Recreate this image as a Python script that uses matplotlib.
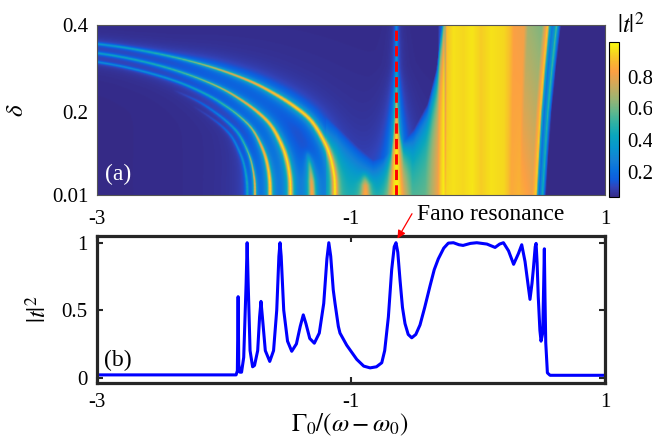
import numpy as np
import matplotlib
matplotlib.use("Agg")
import matplotlib.pyplot as plt
from matplotlib.colors import LinearSegmentedColormap

plt.rcParams["font.family"] = ["Liberation Serif", "DejaVu Serif"]
plt.rcParams["mathtext.fontset"] = "stix"

# ---------------- (b) transmission curve
T_X = [-3.0, -1.905, -1.895, -1.889, -1.884, -1.875, -1.862, -1.845, -1.826, -1.818,
       -1.81, -1.795, -1.775, -1.76, -1.735, -1.72, -1.709, -1.698, -1.675, -1.64,
       -1.61, -1.585, -1.568, -1.559, -1.55, -1.53, -1.5, -1.467, -1.43, -1.4,
       -1.376, -1.355, -1.325, -1.289, -1.25, -1.215, -1.19, -1.175, -1.16, -1.14,
       -1.126, -1.1, -1.087, -1.034, -0.955, -0.9, -0.85, -0.8, -0.758, -0.735,
       -0.706, -0.68, -0.66, -0.646, -0.632, -0.614, -0.595, -0.575, -0.55, -0.522,
       -0.49, -0.457, -0.42, -0.378, -0.345, -0.313, -0.27, -0.234, -0.194, -0.15,
       -0.118, -0.06, -0.01, 0.07, 0.134, 0.17, 0.2, 0.24, 0.28, 0.318,
       0.344, 0.37, 0.395, 0.409, 0.425, 0.435, 0.45, 0.457, 0.465, 0.474,
       0.487, 0.496, 0.509, 0.517, 0.522, 0.527, 0.533, 0.546, 0.567, 1.0]
T_Y = [0.02, 0.02, 0.05, 0.60, 0.10, 0.04, 0.04, 0.15, 0.70, 1.0,
       0.70, 0.20, 0.08, 0.09, 0.20, 0.45, 0.565, 0.45, 0.20, 0.12,
       0.20, 0.50, 0.90, 1.0, 0.90, 0.50, 0.27, 0.195, 0.25, 0.38,
       0.465, 0.40, 0.29, 0.255, 0.33, 0.55, 0.88, 1.0, 0.90, 0.65,
       0.55, 0.38, 0.33, 0.24, 0.135, 0.085, 0.072, 0.08, 0.11, 0.20,
       0.45, 0.80, 0.97, 1.0, 0.93, 0.72, 0.52, 0.40, 0.32, 0.295,
       0.32, 0.39, 0.52, 0.68, 0.80, 0.88, 0.96, 0.997, 1.0, 0.985,
       0.98, 0.995, 1.0, 0.99, 0.965, 0.99, 1.0, 0.94, 0.84, 0.92,
       0.985, 0.86, 0.68, 0.58, 0.70, 0.80, 0.97, 0.995, 0.85, 0.60,
       0.35, 0.27, 0.33, 0.70, 0.955, 0.60, 0.26, 0.035, 0.017, 0.017]

FANO_X = -0.646
FANO_Y = 1.0

# ---------------- (a) map of |t|^2: ridges
# each ridge: delta, x, peak value, half width (screen px) along the ridge
R1_D = [0.0, 0.05, 0.10, 0.14, 0.18, 0.21, 0.24, 0.27, 0.30, 0.325, 0.345, 0.357]
R1_X = [-1.13, -1.135, -1.17, -1.23, -1.32, -1.44, -1.60, -1.80, -2.08, -2.40, -2.75, -3.05]
R1_A = [1.0, 1.0, 1.0, 1.0, 1.0, 1.0, 0.95, 0.85, 0.7, 0.5, 0.38, 0.32]
R1_W = [2.6, 2.4, 2.2, 2.0, 1.8, 1.7, 1.5, 1.4, 1.3, 1.1, 1.0, 1.0]

R2_D = [0.0, 0.047, 0.094, 0.132, 0.169, 0.198, 0.226, 0.254, 0.282, 0.306, 0.325, 0.336]
R2_X = [-1.48, -1.484, -1.513, -1.562, -1.635, -1.734, -1.864, -2.028, -2.257, -2.519, -2.805, -3.05]
R2_A = [1.0, 1.0, 1.0, 1.0, 0.95, 0.9, 0.8, 0.7, 0.55, 0.45, 0.38, 0.35]
R2_W = [2.2, 2.1, 2.0, 1.8, 1.6, 1.5, 1.4, 1.2, 1.1, 1.0, 1.0, 1.0]

R3_D = [0.0, 0.044, 0.088, 0.124, 0.159, 0.186, 0.212, 0.238, 0.265, 0.287, 0.305, 0.316]
R3_X = [-1.64, -1.644, -1.669, -1.713, -1.779, -1.868, -1.985, -2.132, -2.337, -2.572, -2.829, -3.05]
R3_A = [1.0, 1.0, 0.95, 0.85, 0.7, 0.6, 0.5, 0.42, 0.35, 0.3, 0.28, 0.28]
R3_W = [1.9, 1.8, 1.6, 1.5, 1.3, 1.2, 1.1, 1.0, 0.9, 0.9, 0.9, 0.9]

R4_D = [0.0, 0.041, 0.083, 0.116, 0.149, 0.174, 0.199, 0.224, 0.249]
R4_X = [-1.76, -1.763, -1.787, -1.827, -1.888, -1.968, -2.076, -2.21, -2.398]
R4_A = [0.9, 0.85, 0.7, 0.55, 0.4, 0.3, 0.2, 0.1, 0.0]
R4_W = [1.3, 1.2, 1.1, 1.0, 1.0, 0.9, 0.9, 0.9, 0.9]

R5_D = [0.0, 0.039, 0.079, 0.11, 0.142, 0.166, 0.189, 0.213]
R5_X = [-1.82, -1.823, -1.846, -1.884, -1.942, -2.018, -2.121, -2.249]
R5_A = [0.4, 0.4, 0.35, 0.28, 0.2, 0.12, 0.06, 0.0]
R5_W = [1.0, 1.0, 0.9, 0.9, 0.9, 0.8, 0.8, 0.8]

# short orange spots at the bottom edge
BA_D = [0.00, 0.04, 0.08, 0.11]
BA_X = [-1.31, -1.315, -1.33, -1.35]
BA_A = [0.85, 0.75, 0.45, 0.0]
BA_W = [3.5, 3.5, 3.0, 2.5]

BB_D = [0.00, 0.03, 0.06]
BB_X = [-0.89, -0.89, -0.90]
BB_A = [0.85, 0.7, 0.0]
BB_W = [5.0, 4.5, 3.5]

# the Fano line
FR_D = [0.00, 0.10, 0.20, 0.30, 0.41]
FR_A = [1.0, 0.95, 0.7, 0.35, 0.25]
FR_W = [6.0, 4.0, 2.5, 1.6, 1.3]

# lit region around the Fano line: lower edge of the dark area and value deep below it
VB_X = [-1.2, -1.09, -0.95, -0.83, -0.75, -0.69, -0.665, -0.645, -0.625, -0.59, -0.51, -0.40, -0.33, -0.30, -0.27]
VB_D = [0.19, 0.16, 0.12, 0.09, 0.095, 0.11, 0.16, 0.24, 0.16, 0.13, 0.16, 0.22, 0.30, 0.38, 0.42]
VF_X = [-1.2, -1.12, -1.0, -0.8, -0.72, -0.67, -0.645, -0.6, -0.52, -0.42, -0.32, -0.27]
VF_V = [0.15, 0.35, 0.38, 0.40, 0.50, 0.85, 0.95, 0.75, 0.50, 0.55, 0.80, 0.95]

# transmission band on the right: right edge vs delta, profiles at top and bottom
PE_D = [0.01, 0.10, 0.20, 0.30, 0.40]
PE_X = [0.53, 0.55, 0.575, 0.61, 0.65]
PU = [-0.32, -0.29, -0.27, -0.25, -0.2, -0.12, -0.05, 0.02, 0.1, 0.2, 0.25, 0.28,
      0.36, 0.39, 0.5, 0.53, 0.545, 0.56, 0.58, 0.6, 0.615, 0.63, 0.65]
PT_V = [0.0, 0.15, 0.5, 0.9, 0.97, 0.95, 0.98, 0.93, 0.97, 0.95, 0.9, 0.82,
        0.8, 0.65, 0.6, 0.8, 0.95, 0.45, 0.2, 0.3, 0.55, 0.25, 0.0]
PB_V = [0.0, 0.6, 0.9, 0.95, 0.97, 0.95, 0.98, 0.93, 0.97, 0.95, 0.9, 0.85,
        0.88, 0.86, 0.8, 0.9, 0.95, 0.4, 0.15, 0.3, 0.45, 0.2, 0.0]

# MATLAB parula, sampled
PARULA = [(0.2081, 0.1663, 0.5292), (0.1959, 0.2645, 0.7279), (0.0591, 0.3598, 0.8683),
          (0.0329, 0.4430, 0.8720), (0.0779, 0.5040, 0.8384), (0.0265, 0.5901, 0.8120),
          (0.0384, 0.6517, 0.7404), (0.1801, 0.6966, 0.6465), (0.3953, 0.7180, 0.5437),
          (0.6099, 0.7049, 0.4495), (0.7897, 0.6702, 0.3642), (0.9586, 0.6307, 0.2793),
          (0.9913, 0.6275, 0.2611), (0.9745, 0.7198, 0.1883), (0.9621, 0.8522, 0.1147),
          (0.9763, 0.9831, 0.0538)]
PARULA_POS = [0, 4, 7, 11, 15, 20, 25, 30, 35, 40, 45, 50, 51, 55, 59, 63]
parula = LinearSegmentedColormap.from_list(
    "parula", [(p / 63, c) for p, c in zip(PARULA_POS, PARULA)])

# ---------------- build the map
PX_X = 127.0          # screen px per unit x
PX_D = 170 / 0.39     # screen px per unit delta
gx = np.linspace(-3, 1, 640)
gd = np.linspace(0.01, 0.4, 260)
X, D = np.meshgrid(gx, gd)


def dense_path(xs, ds, amp, wid, step=0.7):
    # Catmull-Rom through the read points (in screen px), for drawing only
    P = np.column_stack([np.asarray(xs) * PX_X, np.asarray(ds) * PX_D])
    n = len(P)
    out = []
    for i in range(n - 1):
        p0, p1, p2, p3 = P[max(i - 1, 0)], P[i], P[i + 1], P[min(i + 2, n - 1)]
        m = max(int(np.hypot(*(p2 - p1)) / step), 2)
        t = np.linspace(0, 1, m, endpoint=False)[:, None]
        pt = 0.5 * (2 * p1 + (p2 - p0) * t + (2 * p0 - 5 * p1 + 4 * p2 - p3) * t ** 2
                    + (3 * p1 - p0 - 3 * p2 + p3) * t ** 3)
        a = amp[i] + (amp[i + 1] - amp[i]) * t[:, 0]
        w = wid[i] + (wid[i + 1] - wid[i]) * t[:, 0]
        out.append(np.column_stack([pt, a, w]))
    return np.vstack(out)


def ridge(xs, ds, amp, wid, halo=0.0, hwid=8.0):
    core = np.zeros_like(X)
    glow = np.zeros_like(X)
    Xp, Dp = X * PX_X, D * PX_D
    for x0, d0, a, w in dense_path(xs, ds, amp, wid):
        r2 = (Xp - x0) ** 2 + (Dp - d0) ** 2
        core = np.maximum(core, a / (1 + r2 / w ** 2))
        if halo:
            glow = np.maximum(glow, halo * a ** 2 / (1 + r2 / hwid ** 2))
    return core, glow


parts = []
for rx, rd, ra, rw, h in [(R1_X, R1_D, R1_A, R1_W, 0.22), (R2_X, R2_D, R2_A, R2_W, 0.2),
                          (R3_X, R3_D, R3_A, R3_W, 0.15), (R4_X, R4_D, R4_A, R4_W, 0.08),
                          (R5_X, R5_D, R5_A, R5_W, 0.0), (BA_X, BA_D, BA_A, BA_W, 0.15),
                          (BB_X, BB_D, BB_A, BB_W, 0.0),
                          ([FANO_X] * len(FR_D), FR_D, FR_A, FR_W, 0.1)]:
    c, g = ridge(rx, rd, ra, rw, halo=h)
    parts += [c, g]

# lit V-shaped region
inside = (X >= VF_X[0]) & (X <= VF_X[-1])
depth = np.clip(np.interp(X, VB_X, VB_D) - D, 0, None)
parts.append(np.where(inside, np.interp(X, VF_X, VF_V) * (1 - np.exp(-depth / 0.06)), 0))

# transmission band
edge = np.interp(D, PE_D, PE_X)
U = np.where(X < 0.2, X, 0.2 + (X - 0.2) * 0.45 / (edge - 0.2))
wt = (D - 0.01) / 0.39
band = np.zeros_like(X)
for i in range(len(gd)):
    band[i] = (1 - wt[i, 0]) * np.interp(U[i], PU, PB_V, left=0, right=0) \
        + wt[i, 0] * np.interp(U[i], PU, PT_V, left=0, right=0)
parts.append(band)

Z = 1 - np.prod([1 - np.clip(p, 0, 0.999) for p in parts], axis=0)
Z = 0.04 + 0.96 * Z

# ---------------- figure
fig = plt.figure(figsize=(6.52, 4.46), dpi=100)

ax1 = fig.add_axes([0.1488, 0.5628, 0.7792, 0.3816])
im = ax1.imshow(Z, extent=[-3, 1, 0.01, 0.4], origin="lower", aspect="auto",
                cmap=parula, vmin=0.04, vmax=1.02, interpolation="bilinear")
ax1.plot([FANO_X, FANO_X], [0.01, 0.4], color="red", lw=2.1, ls=(0, (3.5, 1.8)))
ax1.set_xlim(-3, 1)
ax1.set_ylim(0.01, 0.4)
ax1.set_xticks([-3, -1, 1])
ax1.set_xticklabels(["-3", "-1", "1"])
ax1.set_yticks([0.01, 0.2, 0.4])
ax1.set_yticklabels(["0.01", "0.2", "0.4"])
ax1.tick_params(length=0, labelsize=15)
ax1.tick_params(axis="x", pad=11)
ax1.tick_params(axis="y", pad=6)
for sp in ax1.spines.values():
    sp.set_edgecolor("#555555")
    sp.set_linewidth(0.8)
ax1.text(0.016, 0.118, "(a)", color="white", fontsize=17, va="center",
         transform=ax1.transAxes)

cax = fig.add_axes([0.934, 0.558, 0.0153, 0.348])
cb = fig.colorbar(im, cax=cax, ticks=[0.2, 0.4, 0.6, 0.8])
cb.ax.set_yticklabels(["0.2", "0.4", "0.6", "0.8"])
cb.ax.tick_params(length=0, labelsize=15, pad=6)
cb.outline.set_linewidth(0.8)
fig.text(631 / 652, 1 - 25 / 446, r"$|t|^2$", ha="center", va="center", fontsize=18)

ax2 = fig.add_axes([0.1488, 0.1413, 0.7792, 0.3296])
ax2.plot(T_X, T_Y, color="#0000ff", lw=2.2)
ax2.set_xlim(-3, 1)
ax2.set_ylim(-0.04, 1.05)
ax2.set_xticks([-3, -1, 1])
ax2.set_xticklabels(["-3", "-1", "1"])
ax2.set_yticks([0, 0.5, 1])
ax2.set_yticklabels(["0", "0.5", "1"])
ax2.tick_params(direction="in", top=True, right=True, length=4, width=1.5,
                labelsize=15, color="#262626")
ax2.tick_params(axis="x", pad=7)
ax2.tick_params(axis="y", pad=7)
for sp in ax2.spines.values():
    sp.set_edgecolor("#262626")
    sp.set_linewidth(2.3)
ax2.text(0.014, 0.15, "(b)", fontsize=17, va="center", transform=ax2.transAxes)

ax2.annotate("", xy=(FANO_X + 0.012, FANO_Y + 0.03), xytext=(-0.52, 1.215),
             arrowprops=dict(arrowstyle="-|>", color="red", lw=0.9,
                             mutation_scale=12, shrinkA=0, shrinkB=0),
             annotation_clip=False)
ax2.text(-0.48, 1.17, "Fano resonance", fontsize=17, ha="left", va="baseline",
         clip_on=False)

fig.text(17 / 652, 1 - 110 / 446, r"$\delta$", rotation=90, ha="center",
         va="center", fontsize=18)
fig.text(38 / 652, 1 - 309 / 446, r"$|t|^2$", rotation=90, ha="center",
         va="center", fontsize=18)
fig.text(350 / 652, 1 - 425 / 446, r"$\Gamma_0/(\omega-\omega_0)$", ha="center",
         va="center", fontsize=18)

fig.savefig("out.png", dpi=100)
